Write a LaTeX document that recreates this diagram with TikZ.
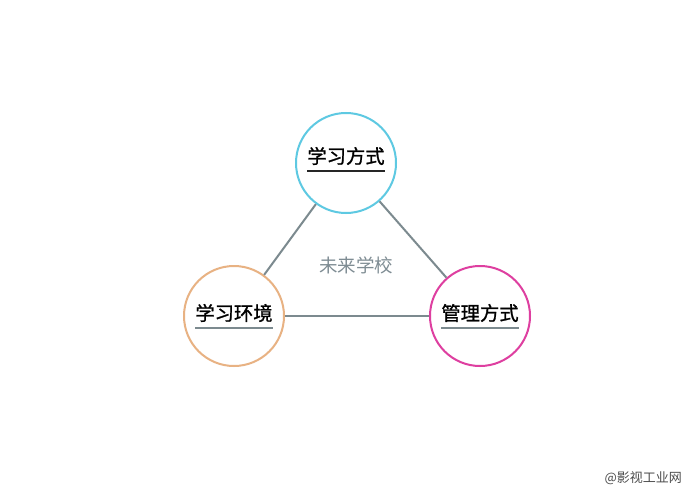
\documentclass[tikz,border=0pt]{standalone}
\usepackage{fontspec}
\newfontfamily\cjk{Noto Sans CJK SC}
\newfontfamily\cjkb[FakeBold=1.2]{Noto Sans CJK SC}
\definecolor{cblue}{HTML}{5EC9E2}
\definecolor{corange}{HTML}{E8B283}
\definecolor{cpink}{HTML}{DE3FA0}
\definecolor{cline}{HTML}{7C8A8F}
\definecolor{ctext}{HTML}{7E8C93}
\begin{document}
\begin{tikzpicture}[x=1pt,y=-1pt,
  ring/.style={circle,draw,line width=2pt,minimum size=100pt,inner sep=0pt},
  lbl/.style={font=\cjkb\fontsize{19.3}{21}\selectfont,text=black,inner sep=0pt},
  uline/.style={line width=1.6pt},
  edge/.style={draw=cline,line width=2pt}]
\useasboundingbox[fill=white] (0,0) rectangle (690,492);
\node[ring,draw=cblue] (top) at (346,163) {};
\node[ring,draw=corange] (left) at (234,316) {};
\node[ring,draw=cpink] (right) at (480,316) {};
\draw[edge] (top) -- (left);
\draw[edge] (top) -- (right);
\draw[edge] (left) -- (right);
\node[lbl] (t1) at (346,156) {学习方式};
\node[lbl] (t2) at (234,313) {学习环境};
\node[lbl] (t3) at (480,313) {管理方式};
\draw[uline,draw=black!85] ([yshift=-6pt]t1.south west) -- ([yshift=-6pt]t1.south east);
\draw[uline,draw=cline] ([yshift=-6pt]t2.south west) -- ([yshift=-6pt]t2.south east);
\draw[uline,draw=cline] ([yshift=-6pt]t3.south west) -- ([yshift=-6pt]t3.south east);
\node[font=\cjk\fontsize{18.5}{20}\selectfont,text=ctext,inner sep=0pt] (center) at (356,265) {未来学校};
\node[font=\cjk\fontsize{13}{15}\selectfont,text=black!70,inner sep=0pt,anchor=east] (wm) at (682,478) {@影视工业网};
\end{tikzpicture}
\end{document}
